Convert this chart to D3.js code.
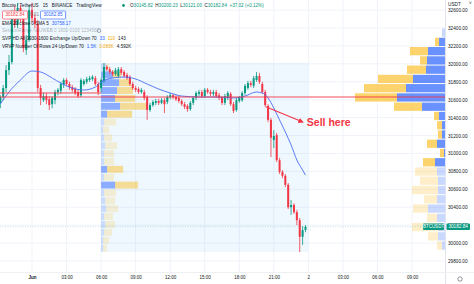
<!DOCTYPE html>
<html>
<head>
<meta charset="utf-8">
<script src="https://cdn.jsdelivr.net/npm/d3@7"></script>
<style>
body { margin: 0; background: #fff; }
svg { display: block; font-family: "Liberation Sans", Arial, sans-serif; }
</style>
</head>
<body>
<div id="chart"></div>
<script>
// BTCUSDT 15m, 31 May 21:15 -> 1 Jun 23:45 (2022)
var firstBar = new Date(2022, 4, 31, 21, 15);
var barMinutes = 15;

// [open, high, low, close]
var candles = [
  [31565,31650,31505,31630],[31630,31765,31595,31730],[31730,31985,31685,31930],[31930,32100,31875,32020],
  [32020,32600,31995,32545],[32545,32655,32400,32435],[32435,32680,32400,32625],[32625,32655,32465,32510],
  [32510,32545,32130,32175],[32155,32320,32100,32265],[32265,32655,32245,32600],
  [32600,32680,32465,32510],[32510,32555,32400,32445],[32445,32490,31685,31730],[31730,31765,31540,31620],
  [31595,31675,31575,31640],[31640,31675,31550,31595],[31605,31640,31485,31540],[31550,31640,31505,31620],
  [31595,31710,31550,31685],[31685,31730,31650,31710],[31700,31800,31665,31775],[31765,31840,31730,31820],
  [31820,31840,31755,31775],[31775,31800,31710,31740],[31740,31765,31685,31710],[31720,31740,31650,31675],
  [31685,31710,31620,31640],[31650,31840,31630,31820],[31775,31830,31755,31810],[31800,31855,31775,31830],
  [31820,31865,31800,31840],[31830,31875,31810,31855],[31840,31865,31755,31775],[31775,31800,31650,31685],
  [31730,31840,31685,31820],[31810,32010,31785,31965],[31965,31985,31920,31940],[31940,31965,31885,31910],
  [31910,31930,31865,31885],[31885,31955,31865,31930],[31865,31965,31840,31940],[31940,31965,31875,31900],
  [31910,31930,31840,31865],[31875,31900,31820,31840],[31855,31875,31755,31775],[31775,31800,31710,31730],
  [31730,31755,31685,31710],[31720,31740,31665,31685],[31685,31730,31665,31710],[31685,31710,31595,31620],
  [31630,31650,31375,31485],[31485,31565,31465,31540],[31540,31595,31520,31575],[31565,31610,31540,31585],
  [31585,31610,31540,31565],[31565,31620,31550,31595],[31595,31620,31450,31550],[31575,31650,31550,31630],
  [31630,31675,31605,31650],[31650,31665,31605,31630],[31630,31650,31585,31605],[31620,31640,31565,31585],
  [31585,31605,31530,31550],[31550,31575,31495,31520],[31530,31550,31465,31495],[31495,31585,31475,31565],
  [31565,31640,31540,31620],[31620,31695,31595,31675],[31665,31710,31640,31685],[31685,31710,31620,31640],
  [31640,31730,31620,31710],[31710,31730,31665,31685],[31685,31710,31640,31665],[31665,31710,31640,31685],
  [31685,31710,31620,31640],[31650,31675,31595,31620],[31620,31640,31540,31565],[31565,31665,31540,31640],
  [31620,31695,31595,31675],[31665,31685,31530,31550],[31550,31575,31450,31475],[31485,31620,31465,31595],
  [31585,31640,31565,31620],[31595,31695,31575,31675],[31675,31775,31650,31755],[31730,31810,31710,31785],
  [31785,31810,31740,31765],[31755,31865,31730,31840],[31820,31910,31800,31865],[31865,31900,31775,31800],
  [31775,31800,31665,31685],[31685,31710,31520,31540],[31530,31550,31350,31375],[31375,31395,30960,31175],
  [31150,31260,31060,31195],[31205,31230,30905,30925],[30925,30950,30770,30795],[30795,30815,30725,30750],
  [30750,30770,30625,30650],[30650,30670,30380,30400],[30400,30480,30315,30425],[30425,30445,30325,30345],
  [30345,30370,30200,30255],[30255,30280,29900,30070],[30070,30190,29980,30145],[30145.82,30200.23,30121.00,30182.84]
];

// EMA 20 (bar index, value)
var emaBars = [0,3,7,11,14,18,21,25,29,33,35,39,43,47,51,55,59,63,69,75,81,85,89,91,93,95,97,99,101,103,105,106];
var emaValues = [31552,31686,31820,31920,31909,31842,31786,31730,31708,31741,31797,31842,31853,31831,31775,31719,
  31675,31641,31630,31630,31619,31641,31686,31675,31619,31507,31373,31240,31095,30927,30815,30758.17];

// visible range volume profile (24 rows, top -> bottom)
var vpHigh = 32400, vpLow = 29920;
var vpUp   = [15,30,85,90,95,160,195,240,115,30,15,15,40,5,50,40,35,35,40,85,40,35,35,15];
var vpDown = [0,20,90,35,95,175,210,210,140,25,25,20,50,20,60,110,90,130,65,75,50,130,50,25];
var vpInValue = [0,1,1,1,1,1,1,1,1,1,1,1,1,1,1,0,0,0,0,0,0,0,0,0];

// session volume profile (24 rows, top -> bottom)
var sessStart = new Date(2022, 5, 1, 6, 0), sessEnd = new Date(2022, 5, 2, 0, 0);
var sessHigh = 32010, sessLow = 29900;
var sessUp   = [20,48,72,64,56,76,24,12,8,12,16,12,12,24,12,56,12,16,20,12,16,12,8,8];
var sessDown = [12,32,48,64,80,104,100,48,24,32,48,40,40,64,40,92,48,40,48,36,40,32,24,16];
var sessInValue = [0,1,1,1,1,1,1,0,0,0,0,0,0,1,0,1,0,0,0,0,0,0,0,0];
var prevSessStart = new Date(2022, 4, 31, 16, 0), prevSessLow = 31200, prevSessHigh = 32800;

var redLevels = [31675, 31630];
var lastPrice = 30182.84;

var priceTicks = [29800,30000,30200,30400,30600,30800,31000,31200,31400,31600,31800,32000,32200,32400,32600];
var timeTickHours = [0,3,6,9,12,15,18,21,24,27,30,33];
var timeTickLabels = ["Jun","03:00","06:00","09:00","12:00","15:00","18:00","21:00","2","03:00","06:00","09:00"];

var arrowFrom = [new Date(2022, 5, 1, 20, 18), 31520];
var arrowTo = [new Date(2022, 5, 1, 23, 31), 31350];
var noteAt = [new Date(2022, 5, 1, 23, 52), 31340];

////////////////////////////////////////////////////////////

var W = 474, H = 284;
var paneRight = 445, paneBottom = 272;
var upColor = "#089981", downColor = "#f23645";
var vpBlue = "#2962ff", vpYellow = "#fbc02d";

var svg = d3.select("#chart").append("svg").attr("width", W).attr("height", H);

var day0 = new Date(2022, 5, 1, 0, 0);
var x = d3.scaleTime()
  .domain([day0, d3.timeHour.offset(day0, 33)])
  .range([32, 412]);
var y = d3.scaleLinear().domain([29800, 32400]).range([261, 28]);

function barTime(i) { return d3.timeMinute.offset(firstBar, i * barMinutes); }

var pane = svg.append("g");
pane.append("clipPath").attr("id", "clip")
  .append("rect").attr("width", paneRight).attr("height", paneBottom);
var g = pane.append("g").attr("clip-path", "url(#clip)");

// grid
var timeTicks = timeTickHours.map(h => d3.timeHour.offset(day0, h));
g.selectAll(".vgrid").data(timeTicks).enter().append("line")
  .attr("x1", d => x(d)).attr("x2", d => x(d)).attr("y1", 0).attr("y2", paneBottom)
  .attr("stroke", "#f0f3fa").attr("stroke-width", 1);
g.selectAll(".hgrid").data(priceTicks).enter().append("line")
  .attr("x1", 0).attr("x2", paneRight).attr("y1", d => y(d)).attr("y2", d => y(d))
  .attr("stroke", "#f0f3fa").attr("stroke-width", 1);

// session boxes
g.append("rect")
  .attr("x", x(prevSessStart)).attr("y", y(prevSessHigh))
  .attr("width", x(sessStart) - x(prevSessStart)).attr("height", y(prevSessLow) - y(prevSessHigh))
  .attr("fill", "rgba(33,150,243,0.07)");
g.append("rect")
  .attr("x", x(sessStart)).attr("y", y(sessHigh))
  .attr("width", x(sessEnd) - x(sessStart)).attr("height", y(sessLow) - y(sessHigh))
  .attr("fill", "rgba(33,150,243,0.07)");

// session profile, growing right from session start
var sessStep = (sessHigh - sessLow) / sessUp.length;
var sx = d3.scaleLinear().domain([0, 400]).range([0, 100]);
var sessRows = sessUp.map((u, i) => ({ up: u, down: sessDown[i], va: sessInValue[i],
  top: sessHigh - i * sessStep, bot: sessHigh - (i + 1) * sessStep }));
var sp = g.append("g");
sessRows.forEach(function(r) {
  var y0 = y(r.top) + 0.5, h = y(r.bot) - y(r.top) - 1;
  var x0 = x(sessStart);
  sp.append("rect").attr("x", x0).attr("y", y0).attr("width", sx(r.up)).attr("height", h)
    .attr("fill", vpBlue).attr("fill-opacity", r.va ? 0.5 : 0.18);
  sp.append("rect").attr("x", x0 + sx(r.up)).attr("y", y0).attr("width", sx(r.down)).attr("height", h)
    .attr("fill", vpYellow).attr("fill-opacity", r.va ? 0.5 : 0.2);
});

// visible range profile, growing left from the price scale
var vpStep = (vpHigh - vpLow) / vpUp.length;
var vx = d3.scaleLinear().domain([0, 500]).range([0, 100]);
var vp = g.append("g");
vpUp.forEach(function(u, i) {
  var top = vpHigh - i * vpStep, bot = vpHigh - (i + 1) * vpStep;
  var y0 = y(top) + 0.5, h = y(bot) - y(top) - 1;
  var op = vpInValue[i] ? 0.7 : 0.25;
  vp.append("rect").attr("x", paneRight - vx(u)).attr("y", y0).attr("width", vx(u)).attr("height", h)
    .attr("fill", vpBlue).attr("fill-opacity", op);
  vp.append("rect").attr("x", paneRight - vx(u) - vx(vpDown[i])).attr("y", y0)
    .attr("width", vx(vpDown[i])).attr("height", h)
    .attr("fill", vpYellow).attr("fill-opacity", op);
});

// candles
var bars = g.append("g").selectAll("g").data(candles).enter().append("g");
bars.append("line")
  .attr("x1", (d, i) => x(barTime(i))).attr("x2", (d, i) => x(barTime(i)))
  .attr("y1", d => y(d[1])).attr("y2", d => y(d[2]))
  .attr("stroke", d => d[3] >= d[0] ? upColor : downColor).attr("stroke-width", 0.8);
bars.append("rect")
  .attr("x", (d, i) => x(barTime(i)) - 1)
  .attr("y", d => y(Math.max(d[0], d[3])))
  .attr("width", 2)
  .attr("height", d => Math.max(0.8, Math.abs(y(d[0]) - y(d[3]))))
  .attr("fill", d => d[3] >= d[0] ? upColor : downColor);

// EMA
var emaLine = d3.line()
  .x((d, i) => x(barTime(emaBars[i])))
  .y(d => y(d))
  .curve(d3.curveMonotoneX);
g.append("path").datum(emaValues).attr("d", emaLine)
  .attr("fill", "none").attr("stroke", "#4a6cf0").attr("stroke-width", 0.9);

// horizontal levels
g.append("line").attr("x1", 0).attr("x2", x(sessStart))
  .attr("y1", y(redLevels[0])).attr("y2", y(redLevels[0]))
  .attr("stroke", "#f23645").attr("stroke-width", 0.9);
g.append("line").attr("x1", 0).attr("x2", paneRight)
  .attr("y1", y(redLevels[1])).attr("y2", y(redLevels[1]))
  .attr("stroke", "#f23645").attr("stroke-width", 0.9);

// last price line
g.append("line").attr("x1", 0).attr("x2", paneRight)
  .attr("y1", y(lastPrice)).attr("y2", y(lastPrice))
  .attr("stroke", upColor).attr("stroke-opacity", 0.35).attr("stroke-dasharray", "1,1.5").attr("stroke-width", 0.7);

// arrow + note
svg.append("defs").append("marker")
  .attr("id", "head").attr("viewBox", "0 0 10 10").attr("refX", 8).attr("refY", 5)
  .attr("markerWidth", 5).attr("markerHeight", 5).attr("orient", "auto")
  .append("path").attr("d", "M0,0 L10,5 L0,10 z").attr("fill", "#f23645");
g.append("line")
  .attr("x1", x(arrowFrom[0])).attr("y1", y(arrowFrom[1]))
  .attr("x2", x(arrowTo[0])).attr("y2", y(arrowTo[1]))
  .attr("stroke", "#f23645").attr("stroke-width", 1.1).attr("marker-end", "url(#head)");
g.append("text").attr("x", x(noteAt[0])).attr("y", y(noteAt[1]))
  .attr("dominant-baseline", "middle")
  .attr("font-size", 10.5).attr("font-weight", "bold").attr("fill", "#f23645")
  .text("Sell here");

// borders
svg.append("line").attr("x1", paneRight + 0.5).attr("x2", paneRight + 0.5).attr("y1", 0).attr("y2", H)
  .attr("stroke", "#e0e3eb").attr("stroke-width", 1);
svg.append("line").attr("x1", 0).attr("x2", W).attr("y1", paneBottom + 0.5).attr("y2", paneBottom + 0.5)
  .attr("stroke", "#eef0f3").attr("stroke-width", 1);

// price axis
var yAxis = d3.axisRight(y).tickValues(priceTicks).tickSize(0).tickPadding(3)
  .tickFormat(d3.format(".2f"));
var ya = svg.append("g").attr("transform", "translate(" + paneRight + ",0)").call(yAxis);
ya.select(".domain").remove();
ya.selectAll("text").attr("font-size", 4.7).attr("fill", "#131722")
  .attr("font-family", "'Liberation Sans', Arial, sans-serif");

// time axis
var xAxis = d3.axisBottom(x).tickValues(timeTicks).tickSize(0).tickPadding(3.5)
  .tickFormat((d, i) => timeTickLabels[i]);
var xa = svg.append("g").attr("transform", "translate(0," + paneBottom + ")").call(xAxis);
xa.select(".domain").remove();
xa.selectAll("text").attr("font-size", 4.5).attr("fill", "#131722")
  .attr("font-family", "'Liberation Sans', Arial, sans-serif");
xa.selectAll("text").filter((d, i) => i === 0).attr("font-weight", "bold");

// last price labels
var ly = y(lastPrice);
svg.append("rect").attr("x", 423).attr("y", ly - 3.3).attr("width", 21).attr("height", 6.6).attr("rx", 1).attr("fill", upColor);
svg.append("text").attr("x", 433.5).attr("y", ly).attr("text-anchor", "middle").attr("dominant-baseline", "middle")
  .attr("font-size", 4.5).attr("fill", "#fff").text("BTCUSDT");
svg.append("rect").attr("x", 446.5).attr("y", ly - 3.3).attr("width", 23.5).attr("height", 6.6).attr("rx", 1).attr("fill", upColor);
svg.append("text").attr("x", 458.2).attr("y", ly).attr("text-anchor", "middle").attr("dominant-baseline", "middle")
  .attr("font-size", 4.7).attr("fill", "#fff").text("30182.84");

// scale header + corner icon
svg.append("rect").attr("x", 446).attr("y", 0).attr("width", 28).attr("height", 8).attr("fill", "#fff");
svg.append("text").attr("x", 448).attr("y", 4.5).attr("dominant-baseline", "middle")
  .attr("font-size", 4.7).attr("fill", "#131722").text("USDT");
svg.append("text").attr("x", 469).attr("y", 4).attr("dominant-baseline", "middle")
  .attr("font-size", 4.5).attr("fill", "#131722").text("˅");
svg.append("circle").attr("cx", 460).attr("cy", 279).attr("r", 2.2)
  .attr("fill", "none").attr("stroke", "#50535e").attr("stroke-width", 0.6);

// legend: each line is one text, parts as tspans so nothing collides
var lg = svg.append("g").attr("font-size", 4.6).attr("fill", "#131722");
function legendLine(yp, parts, xp) {
  var t = lg.append("text").attr("x", xp || 2).attr("y", yp).attr("dominant-baseline", "middle");
  parts.forEach(function(p, i) {
    t.append("tspan").attr("dx", i ? (p[2] === undefined ? 2.5 : p[2]) : 0)
      .attr("fill", p[1] || "#131722").text(p[0]);
  });
  return t;
}
legendLine(5.7, [["Bitcoin / TetherUS"], ["15", null, 4], ["BINANCE", null, 4], ["TradingView", null, 4]]);
lg.append("circle").attr("cx", 123.5).attr("cy", 5.5).attr("r", 1.4).attr("fill", upColor);
legendLine(5.7, [["O"], ["30145.82", upColor, 0], ["H"], ["30200.23", upColor, 0], ["L"], ["30121.00", upColor, 0],
  ["C"], ["30182.84", upColor, 0], ["+37.02 (+0.12%)", upColor]], 130);

lg.append("rect").attr("x", 2.5).attr("y", 11).attr("width", 25).attr("height", 8).attr("rx", 1)
  .attr("fill", "#fff").attr("stroke", "#f23645").attr("stroke-width", 0.6);
legendLine(15.2, [["30182.84", "#f23645"]], 15).attr("text-anchor", "middle");
legendLine(15.2, [["0.01", "#787b86"]], 30);
lg.append("rect").attr("x", 40.5).attr("y", 11).attr("width", 25).attr("height", 8).attr("rx", 1)
  .attr("fill", "#fff").attr("stroke", "#2962ff").attr("stroke-width", 0.6);
legendLine(15.2, [["30182.85", "#2962ff"]], 53).attr("text-anchor", "middle");

legendLine(23.7, [["EMA 20 close 0 SMA 5"], ["30758.17", "#2962ff", 3]]);
legendLine(30.9, [["SessionRange NoUWEB 0 1600-0100 1234567"]]).attr("fill-opacity", 0.35);
lg.append("circle").attr("cx", 99).attr("cy", 30.7).attr("r", 1.8)
  .attr("fill", "none").attr("stroke", "#50535e").attr("stroke-width", 0.5);
legendLine(39.3, [["SVP HD All 0930-1600 Exchange Up/Down 70"], ["33", "#2962ff", 3], ["110", "#f0a800", 3], ["143", null, 3]]);
legendLine(46.9, [["VRVP Number Of Rows 24 Up/Down 70"], ["1.5K", "#2962ff", 3], ["3.083K", "#f0a800", 3], ["4.592K", null, 3]]);
</script>
</body>
</html>
